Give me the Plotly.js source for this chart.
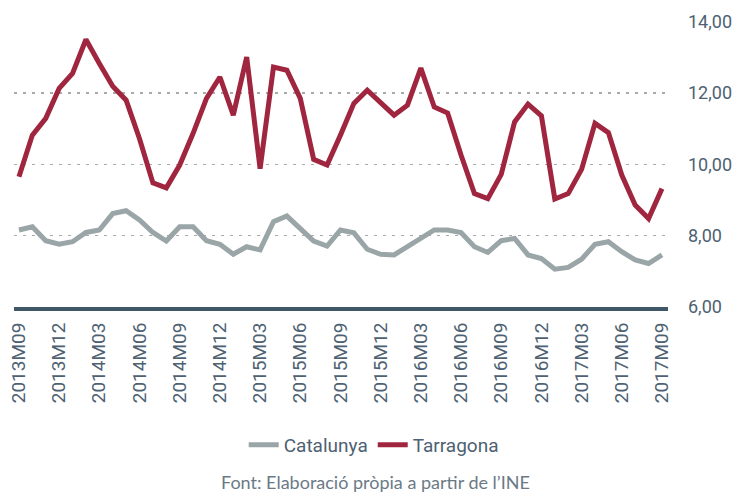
<!DOCTYPE html>
<html>
<head>
<meta charset="utf-8">
<script src="https://cdn.plot.ly/plotly-3.0.1.min.js"></script>
<style>html,body{margin:0;padding:0;background:#fff;}#chart{width:736px;height:495px;}</style>
</head>
<body>
<div id="chart"></div>
<script>
const months = [
  "2013M09","2013M10","2013M11","2013M12","2014M01","2014M02","2014M03","2014M04","2014M05","2014M06","2014M07","2014M08",
  "2014M09","2014M10","2014M11","2014M12","2015M01","2015M02","2015M03","2015M04","2015M05","2015M06","2015M07","2015M08",
  "2015M09","2015M10","2015M11","2015M12","2016M01","2016M02","2016M03","2016M04","2016M05","2016M06","2016M07","2016M08",
  "2016M09","2016M10","2016M11","2016M12","2017M01","2017M02","2017M03","2017M04","2017M05","2017M06","2017M07","2017M08",
  "2017M09"
];
const tickLabels = ["2013M09","2013M12","2014M03","2014M06","2014M09","2014M12","2015M03","2015M06","2015M09",
  "2015M12","2016M03","2016M06","2016M09","2016M12","2017M03","2017M06","2017M09"];
const catalunya = [
  8.16,8.25,7.86,7.76,7.83,8.09,8.16,8.62,8.70,8.44,8.09,7.85,
  8.25,8.25,7.86,7.76,7.48,7.69,7.60,8.39,8.55,8.20,7.85,7.71,
  8.16,8.08,7.62,7.48,7.46,7.69,7.92,8.16,8.16,8.09,7.69,7.53,
  7.86,7.92,7.46,7.36,7.06,7.11,7.34,7.76,7.83,7.55,7.32,7.22,
  7.46
];
const tarragona = [
  9.65,10.82,11.29,12.13,12.55,13.50,12.83,12.19,11.80,10.72,9.48,9.34,
  9.98,10.87,11.85,12.45,11.38,13.01,9.88,12.73,12.64,11.85,10.14,9.98,
  10.82,11.71,12.08,11.72,11.38,11.66,12.70,11.61,11.44,10.26,9.18,9.04,
  9.72,11.19,11.69,11.36,9.03,9.18,9.86,11.15,10.89,9.70,8.86,8.48,
  9.32
];
const yTicks = [6,8,10,12,14];
const yTickText = ["6,00","8,00","10,00","12,00","14,00"];

const textColor = "#4d6172";
const labelFont = {family: "Roboto, sans-serif", size: 19, color: textColor};

const traces = [
  {x: months, y: catalunya, name: "Catalunya", type: "scatter", mode: "lines",
   line: {color: "#9aa5a7", width: 5}},
  {x: months, y: tarragona, name: "Tarragona", type: "scatter", mode: "lines",
   line: {color: "#a0263f", width: 5}}
];

const layout = {
  width: 736, height: 495,
  margin: {l: 14, r: 68, t: 21, b: 188},
  paper_bgcolor: "#fff", plot_bgcolor: "#fff",
  showlegend: true,
  legend: {orientation: "h", x: 0.55, xanchor: "center", y: -0.4825, yanchor: "middle",
           font: labelFont, tracegroupgap: 0, itemclick: false},
  xaxis: {
    type: "category", range: [-0.37, 48.45],
    tickmode: "array", tickvals: tickLabels, ticktext: tickLabels,
    tickangle: -90, tickfont: labelFont, ticks: "", showgrid: false, zeroline: false,
    showline: true, linecolor: "#3f5767", linewidth: 4, ticklabelstandoff: 4
  },
  yaxis: {
    side: "right", range: [6, 14.02], tickmode: "array", tickvals: yTicks, ticktext: yTickText,
    tickfont: {family: "Roboto, sans-serif", size: 18, color: textColor},
    ticks: "", showgrid: true, gridcolor: "#a9a9a9", gridwidth: 1.5,
    griddash: "3px,6px", zeroline: false, showline: false, ticklabelstandoff: 19
  },
  annotations: [{
    text: "Font: Elaboració pròpia a partir de l’INE", xref: "paper", yref: "paper",
    x: 0.552, y: -0.612, xanchor: "center", yanchor: "middle", showarrow: false,
    font: {family: "Lato, 'Open Sans', sans-serif", size: 18, color: "#6b7a86"}
  }]
};

Plotly.newPlot("chart", traces, layout, {displayModeBar: false, staticPlot: true});
</script>
</body>
</html>
